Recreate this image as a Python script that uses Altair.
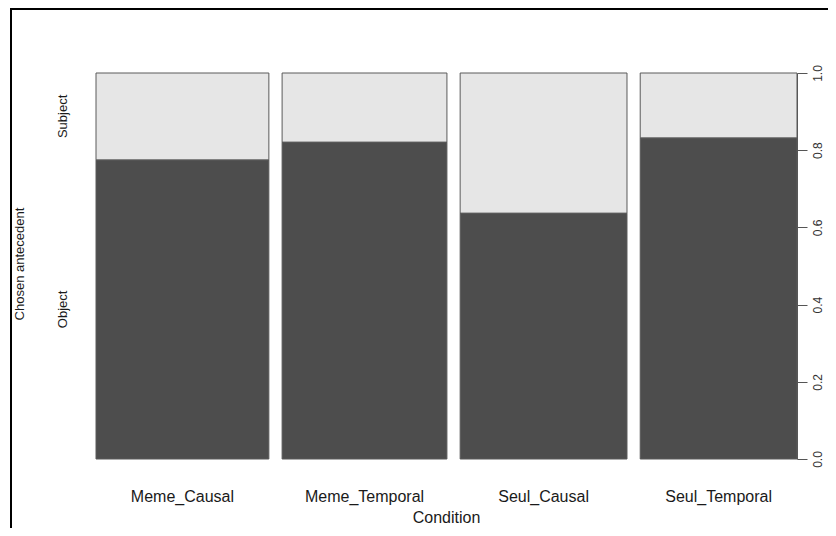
import altair as alt
import pandas as pd

# ---- data ----
conditions = ["Meme_Causal", "Meme_Temporal", "Seul_Causal", "Seul_Temporal"]
n_trials = [172, 164, 166, 156]          # relative group sizes (bar widths)
prop_object = [0.775, 0.821, 0.637, 0.832]  # proportion choosing "Object"
responses = ["Object", "Subject"]
y_ticks = [0.0, 0.2, 0.4, 0.6, 0.8, 1.0]
gap = 0.02

FONT = "Liberation Sans"
W, H = 701, 386

# ---- build spineplot table ----
total = sum(n_trials)
rows, lab_rows = [], []
left = 0.0
for c, n, p in zip(conditions, n_trials, prop_object):
    w = n / total
    rows.append(dict(cond=c, x0=left, x1=left + w, y0=0.0, y1=p, resp="Object"))
    rows.append(dict(cond=c, x0=left, x1=left + w, y0=p, y1=1.0, resp="Subject"))
    lab_rows.append(dict(cond=c, xm=left + w / 2))
    left += w + gap
xmax = left - gap
bars = pd.DataFrame(rows)
xlabs = pd.DataFrame(lab_rows)
p0 = prop_object[0]
ylabs = pd.DataFrame({"resp": responses, "ym": [p0 / 2, (1 + p0) / 2]})

xscale = alt.Scale(domain=[0, xmax], nice=False, zero=False)
yscale = alt.Scale(domain=[0, 1], nice=False)

rect = alt.Chart(bars).mark_rect(stroke="#5a5a5a", strokeWidth=1).encode(
    x=alt.X("x0:Q", scale=xscale, axis=None),
    x2="x1:Q",
    y=alt.Y("y0:Q", scale=yscale,
            axis=alt.Axis(orient="right", values=y_ticks, format=".1f", title=None,
                          labelAngle=270, labelAlign="center", labelBaseline="top",
                          labelPadding=5, tickSize=10, tickColor="#555", domainColor="#555",
                          labelColor="#333", labelFont=FONT, labelFontSize=12, grid=False)),
    y2="y1:Q",
    color=alt.Color("resp:N", scale=alt.Scale(domain=responses, range=["#4d4d4d", "#e6e6e6"]),
                    legend=None),
)

xtext = alt.Chart(xlabs).mark_text(font=FONT, fontSize=16, color="#1a1a1a", baseline="middle").encode(
    x=alt.X("xm:Q", scale=xscale), y=alt.value(H + 38), text="cond:N")

xtitle = alt.Chart(pd.DataFrame({"t": ["Condition"]})).mark_text(
    font=FONT, fontSize=16, color="#1a1a1a", baseline="middle").encode(
    x=alt.value(W / 2), y=alt.value(H + 59), text="t:N")

ytext = alt.Chart(ylabs).mark_text(font=FONT, fontSize=13, color="#1a1a1a", angle=270,
                                   baseline="middle").encode(
    x=alt.value(-33), y=alt.Y("ym:Q", scale=yscale), text="resp:N")

ytitle = alt.Chart(pd.DataFrame({"t": ["Chosen antecedent"]})).mark_text(
    font=FONT, fontSize=13, color="#1a1a1a", angle=270, baseline="middle").encode(
    x=alt.value(-76), y=alt.value(H / 2 - 2), text="t:N")

frame = alt.Chart(pd.DataFrame({"a": [0]})).mark_rect(
    filled=False, stroke="black", strokeWidth=2).encode(
    x=alt.value(-85), x2=alt.value(1000), y=alt.value(-64), y2=alt.value(1000))

chart = alt.layer(frame, rect, xtext, xtitle, ytext, ytitle).properties(
    width=W, height=H,
    autosize=alt.AutoSizeParams(type="none"),
    padding={"left": 88, "top": 65, "right": 31, "bottom": 69},
    background="white",
).configure_view(stroke=None)

chart.save("out.html", embed_options={"renderer": "svg", "actions": False})
